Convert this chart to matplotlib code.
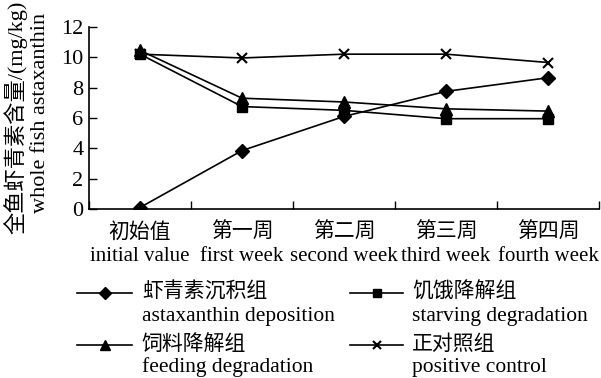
import numpy as np
import matplotlib.pyplot as plt
from matplotlib.lines import Line2D
from matplotlib.ticker import FixedLocator, NullFormatter

plt.rcParams['font.family'] = ['Liberation Serif', 'Noto Sans CJK SC']
plt.rcParams['font.size'] = 15

# category labels (Chinese / English)
weeks_cn = ['初始值', '第一周', '第二周', '第三周', '第四周']
weeks_en = ['initial value', 'first week', 'second week', 'third week', 'fourth week']

# whole fish astaxanthin, mg/kg
deposition = [0.1, 3.85, 6.1, 7.75, 8.65]
starving = [10.2, 6.75, 6.5, 5.95, 5.95]
feeding = [10.45, 7.3, 7.05, 6.6, 6.45]
control = [10.2, 9.95, 10.2, 10.2, 9.65]

series_cn = ['虾青素沉积组', '饥饿降解组', '饲料降解组', '正对照组']
series_en = ['astaxanthin deposition', 'starving degradation', 'feeding degradation', 'positive control']

fig = plt.figure(figsize=(6.01, 3.78), dpi=100)
ax = fig.add_axes([0.148, 0.447, 0.849, 0.482])

x = np.arange(len(weeks_cn))
styles = [('D', 7.5), ('s', 7.5), ('^', 9), ('x', 7)]
for ys, (mk, ms) in zip([deposition, starving, feeding, control], styles):
    ax.plot(x, ys, color='black', lw=1.2, marker=mk, markersize=ms,
            markeredgewidth=1.5 if mk == 'x' else 1.0)

ax.set_xlim(-0.5, 4.5)
ax.set_ylim(0, 12)
ax.set_yticks(range(0, 13, 2))
ax.xaxis.set_major_locator(FixedLocator(np.arange(-0.5, 5, 1)))
ax.xaxis.set_major_formatter(NullFormatter())
ax.xaxis.set_minor_locator(FixedLocator(x))
ax.set_xticklabels([c + '\n' + e for c, e in zip(weeks_cn, weeks_en)], minor=True,
                   linespacing=1.3)
ax.tick_params(axis='x', which='minor', length=0, pad=10)
ax.tick_params(axis='both', which='major', direction='in', length=6, width=1)
ax.tick_params(axis='y', pad=4, labelsize=16)
for s in ['top', 'right']:
    ax.spines[s].set_visible(False)
for s in ['left', 'bottom']:
    ax.spines[s].set_linewidth(1.2)

# two-line y axis title
fig.text(0.026, 0.69, '全鱼虾青素含量/(mg/kg)', rotation=90, ha='center', va='center', fontsize=16)
fig.text(0.068, 0.70, 'whole fish astaxanthin', rotation=90, ha='center', va='center', fontsize=16)

# legend: two columns, row-wise order, handle level with the Chinese line
col_x = [(0.128, 0.220, 0.236), (0.582, 0.671, 0.686)]
row_y = [(0.226, 0.163), (0.088, 0.028)]
for i, (cn, en) in enumerate(zip(series_cn, series_en)):
    hx0, hx1, tx = col_x[i % 2]
    ycn, yen = row_y[i // 2]
    mk, ms = styles[i]
    fig.add_artist(Line2D([hx0, hx1], [ycn, ycn], transform=fig.transFigure, color='black',
                          lw=1.2))
    fig.add_artist(Line2D([(hx0 + hx1) / 2], [ycn], transform=fig.transFigure, color='black',
                          marker=mk, markersize=ms * 0.8,
                          markeredgewidth=1.5 if mk == 'x' else 1.0))
    fig.text(tx, ycn, cn, ha='left', va='center', fontsize=15)
    fig.text(tx, yen, en, ha='left', va='center', fontsize=15.5)

fig.savefig('out.png', dpi=100)
